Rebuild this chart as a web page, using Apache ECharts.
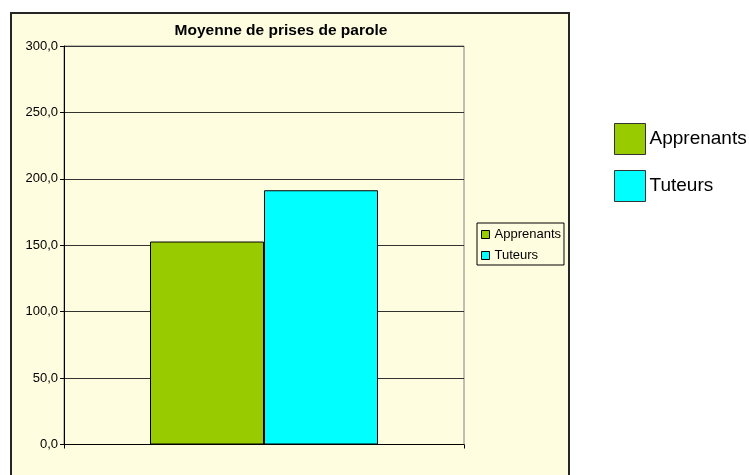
<!DOCTYPE html>
<html>
<head>
<meta charset="utf-8">
<script src="https://cdn.jsdelivr.net/npm/echarts@6/dist/echarts.min.js"></script>
<style>html,body{margin:0;padding:0;background:#fff;}#c{width:749px;height:475px;}</style>
</head>
<body>
<div id="c"></div>
<script>
var titleText = 'Moyenne de prises de parole';
var categories = [''];
var seriesNames = ['Apprenants', 'Tuteurs'];
var apprenantsValues = [152.8];
var tuteursValues = [191.4];
var seriesColors = ['#99CC00', '#00FFFF'];
var yMin = 0, yMax = 300, yStep = 50;

var FONT = 'Liberation Sans, Arial, sans-serif';
var chart = echarts.init(document.getElementById('c'), null, {renderer: 'canvas'});
var fmt = function (v) { return v.toFixed(1).replace('.', ','); };
chart.setOption({
  backgroundColor: '#ffffff',
  animation: false,
  textStyle: {fontFamily: FONT},
  graphic: [{
    type: 'rect', z: -10, silent: true,
    shape: {x: 11, y: 13, width: 558, height: 480},
    style: {fill: '#FFFDE0', stroke: '#262626', lineWidth: 2}
  }],
  title: {
    text: titleText, left: 276, top: 18, textAlign: 'center',
    textStyle: {fontSize: 15.5, fontWeight: 'bold', color: '#000', fontFamily: FONT}
  },
  legend: [{
    orient: 'vertical', left: 477, top: 223, data: seriesNames,
    borderColor: '#000', borderWidth: 1, padding: [5, 3, 3, 4],
    itemWidth: 8, itemHeight: 8, itemGap: 8, icon: 'rect',
    itemStyle: {borderColor: '#000', borderWidth: 1},
    textStyle: {fontSize: 13, color: '#000', fontFamily: FONT}
  }, {
    orient: 'vertical', left: 614, top: 123, data: seriesNames,
    padding: 0, itemWidth: 31, itemHeight: 31, itemGap: 15, icon: 'rect',
    itemStyle: {borderColor: '#333', borderWidth: 1},
    textStyle: {fontSize: 19, color: '#000', fontFamily: FONT, padding: [0, 0, 0, -1]}
  }],
  grid: {left: 64, top: 46, width: 400, height: 398.5, show: true, borderColor: '#808080', borderWidth: 1, backgroundColor: 'transparent'},
  xAxis: {
    type: 'category', data: categories,
    axisLine: {lineStyle: {color: '#000'}},
    axisTick: {show: true, length: 4, lineStyle: {color: '#000'}},
    axisLabel: {show: false}
  },
  yAxis: {
    type: 'value', min: yMin, max: yMax, interval: yStep,
    axisLine: {show: true, lineStyle: {color: '#000'}},
    axisTick: {show: true, length: 4, lineStyle: {color: '#000'}},
    axisLabel: {formatter: fmt, fontSize: 13, color: '#000', margin: 6, fontFamily: FONT},
    splitLine: {lineStyle: {color: '#333', width: 1}}
  },
  series: [{
    name: seriesNames[0], type: 'bar', data: apprenantsValues, barWidth: 114, barGap: '0%',
    itemStyle: {color: seriesColors[0], borderColor: '#000', borderWidth: 1}
  }, {
    name: seriesNames[1], type: 'bar', data: tuteursValues, barWidth: 114, barGap: '0%',
    itemStyle: {color: seriesColors[1], borderColor: '#000', borderWidth: 1}
  }]
});
</script>
</body>
</html>
